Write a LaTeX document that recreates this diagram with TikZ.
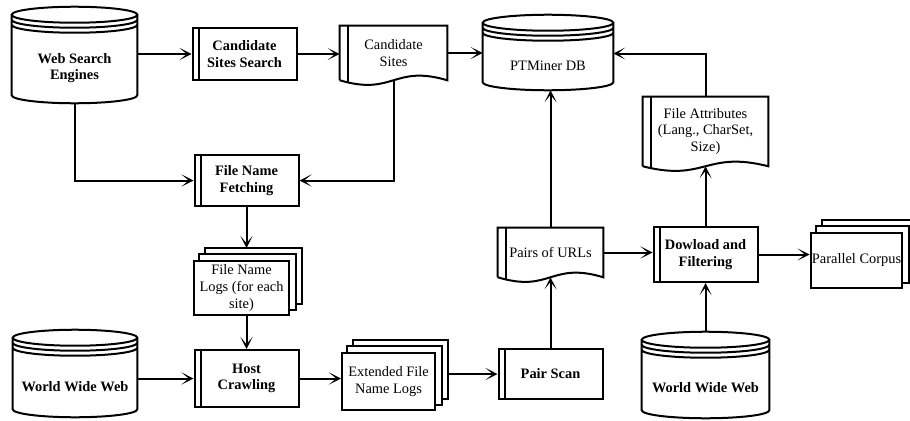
\documentclass[tikz,border=0pt]{standalone}
\usepackage{fontspec}
\setmainfont{Liberation Serif}
\usetikzlibrary{arrows.meta,calc}

% cylinder round a body node: top ellipse and two rings above the node
\newcommand\dbshape[1]{%
  \draw[line width=1.5pt] let \p1=(#1.west), \p2=(#1.east), \n1={(\x2-\x1)/2} in
    ([yshift=13.5pt]#1.north west) -- ([yshift=6pt]#1.south west)
    arc[start angle=180, end angle=360, x radius=\n1, y radius=6pt]
    -- ([yshift=13.5pt]#1.north east)
    ([yshift=13.5pt]#1.north) ellipse[x radius=\n1, y radius=6pt]
    ([yshift=9.75pt]#1.north west) arc[start angle=180, end angle=360, x radius=\n1, y radius=6pt]
    ([yshift=6pt]#1.north west) arc[start angle=180, end angle=360, x radius=\n1, y radius=6pt];}
% document with wavy bottom
\newcommand\docshape[1]{%
  \draw[line width=1.5pt] (#1.south west) -- (#1.north west) -- (#1.north east) -- (#1.south east)
    .. controls ([yshift=12pt]#1.south) and ([yshift=-12pt]#1.south) .. (#1.south west);
  \draw[line width=1.5pt] ([xshift=6pt]#1.north west) -- ([xshift=6pt,yshift=-1.5pt]#1.south west);}
% two sheets behind a stacked document
\newcommand\stackback[1]{%
  \draw[line width=1.5pt] ([xshift=4.5pt]#1.north west) -- ++(0,4.5pt)
    -| ([shift={(4.5pt,4.5pt)}]#1.south east) -- ++(-4.5pt,0);
  \draw[line width=1.5pt] ([xshift=9pt,yshift=4.5pt]#1.north west) -- ++(0,4.5pt)
    -| ([shift={(9pt,9pt)}]#1.south east) -- ++(-4.5pt,0);}

\begin{document}
\fontsize{10.8pt}{12.5pt}\selectfont
\begin{tikzpicture}[x=0.75pt, y=-0.75pt,
    proc/.style={draw, line width=1.5pt, minimum width=78pt, align=center, inner sep=1pt, font=\bfseries,
      path picture={\draw[line width=1.5pt] ([xshift=5pt]path picture bounding box.north west)
        -- ([xshift=5pt]path picture bounding box.south west);}},
    doc/.style={align=center, inner sep=1pt},
    db/.style={align=center, inner sep=1pt},
    stack/.style={draw, fill=white, line width=1.5pt, align=center, inner sep=1pt},
    arr/.style={line width=1.5pt, -{Stealth[length=9pt, width=9pt, inset=5.5pt]}}]

    \useasboundingbox (0,0) rectangle (910,421);

    \node[db, minimum width=93.75pt, minimum height=52.5pt, font=\bfseries] (wse) at (74.5,68) {Web Search\\Engines};
    \node[db, minimum width=97.5pt, minimum height=36.75pt] (ptm) at (548,65.5) {PTMiner DB};
    \node[db, minimum width=93pt, minimum height=45.75pt, font=\bfseries] (wwwl) at (75,386.5) {World Wide Web};
    \node[db, minimum width=95.25pt, minimum height=45pt, font=\bfseries] (wwwr) at (705.5,388) {World Wide Web};
    \dbshape{wse}
    \dbshape{ptm}
    \dbshape{wwwl}
    \dbshape{wwwr}

    \node[proc, minimum height=39pt] (css) at (244.5,54) {Candidate\\Sites Search};
    \node[proc, minimum height=38.25pt] (fnf) at (246.5,180.5) {File Name\\Fetching};
    \node[proc, minimum height=42.75pt] (hc) at (246.5,378.5) {Host\\Crawling};
    \node[proc, minimum height=37.5pt] (ps) at (550.5,374) {Pair Scan};
    \node[proc, minimum height=41.25pt] (df) at (705.5,254.5) {Dowload and\\Filtering};

    \node[doc, minimum width=80.25pt, minimum height=40.5pt] (cs) at (393.5,53) {Candidate\\Sites};
    \node[doc, minimum width=78.75pt, minimum height=36.75pt] (pou) at (550.5,252.5) {Pairs of URLs};
    \node[doc, minimum width=93.75pt, minimum height=51.75pt] (fa) at (705.5,131.5) {File Attributes\\(Lang., CharSet,\\Size)};
    \docshape{cs}
    \docshape{pou}
    \docshape{fa}

    \node[stack, minimum width=71.25pt, minimum height=40.5pt] (fnl) at (241.5,288) {File Name\\Logs (for each\\site)};
    \node[stack, minimum width=69.75pt, minimum height=42.75pt] (efnl) at (388.5,381.5) {Extended File\\Name Logs};
    \node[stack, minimum width=68.25pt, minimum height=41.25pt] (pc) at (856.5,260.5) {Parallel Corpus};
    \stackback{fnl}
    \stackback{efnl}
    \stackback{pc}

    \draw[arr] (wse.east |- css.west) -- (css.west);
    \draw[arr] (css.east) -- (css.east -| cs.west);
    \draw[arr] (cs.east) -- (cs.east -| ptm.west);
    \draw[arr] (fa.north) |- ([yshift=9pt]ptm.east);
    \draw[arr] (pou.north) -- (pou.north |- ptm.south);
    \draw[arr] (wse.south) |- (fnf.west);
    \draw[arr] (cs.south) |- (fnf.east);
    \draw[arr] (fnf.south) -- ([yshift=9pt]fnf.south |- fnl.north);
    \draw[arr] (hc.north |- fnl.south) -- (hc.north);
    \draw[arr] (wwwl.east |- hc.west) -- (hc.west);
    \draw[arr] (hc.east) -- (hc.east -| efnl.west);
    \draw[arr] ([xshift=9pt]efnl.east |- ps.west) -- (ps.west);
    \draw[arr] (ps.north) -- (pou.south);
    \draw[arr] (pou.east) -- (pou.east -| df.west);
    \draw[arr] (df.north) -- (fa.south);
    \draw[arr] (df.east) -- (df.east -| pc.west);
    \draw[arr] ([yshift=19.5pt]wwwr.north) -- (df.south);

\end{tikzpicture}
\end{document}
